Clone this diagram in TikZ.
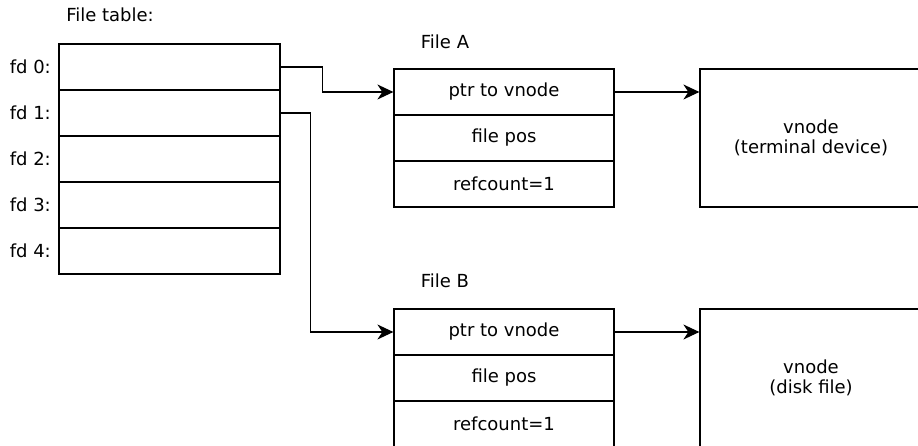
\documentclass[tikz,border=0pt]{standalone}
\usepackage{fontspec}
\setmainfont{DejaVu Sans}
\usetikzlibrary{arrows.meta}
\begin{document}
\begin{tikzpicture}[x=1pt,y=-1pt,
  txt/.style={font=\fontsize{18}{19.5}\selectfont},
  cell/.style={draw,line width=1.2pt,minimum width=221pt,minimum height=46pt,inner sep=0pt,txt},
  fcell/.style={draw,line width=1.2pt,minimum width=220pt,minimum height=46pt,inner sep=0pt,txt},
  vbox/.style={draw,line width=1.2pt,minimum width=222pt,minimum height=138pt,inner sep=0pt,align=center,txt},
  lbl/.style={inner sep=0pt,txt},
  conn/.style={line width=1.2pt,-{Stealth[length=16pt,width=15pt,inset=5pt]}}]
\useasboundingbox (0,0) rectangle (918,446);
\clip (0,0) rectangle (918,446);
\node[lbl] (ftl) at (110,15) {File table:};
\foreach \i in {0,...,4} {
  \node[cell] (t\i) at (169.5,{67+46*\i}) {};
  \node[lbl,anchor=east] (fd\i) at (51,{67+46*\i}) {fd \i:};
}
\node[lbl] (fa) at (445,42) {File A};
\node[fcell] (aptr) at (504,92) {ptr to vnode};
\node[fcell] (apos) at (504,138) {file pos};
\node[fcell] (aref) at (504,184) {refcount=1};
\node[vbox] (va) at (811,138) {vnode\\(terminal device)};
\node[lbl] (fb) at (445,281) {File B};
\node[fcell] (bptr) at (504,332) {ptr to vnode};
\node[fcell] (bpos) at (504,378) {file pos};
\node[fcell] (bref) at (504,424) {refcount=1};
\node[vbox] (vb) at (811,378) {vnode\\(disk file)};
\draw[conn] (t0.east) -- ++(42,0) |- (aptr.west);
\draw[conn] (t1.east) -- ++(30,0) |- (bptr.west);
\draw[conn] (aptr.east) -- (aptr.east -| va.west);
\draw[conn] (bptr.east) -- (bptr.east -| vb.west);
\end{tikzpicture}
\end{document}
